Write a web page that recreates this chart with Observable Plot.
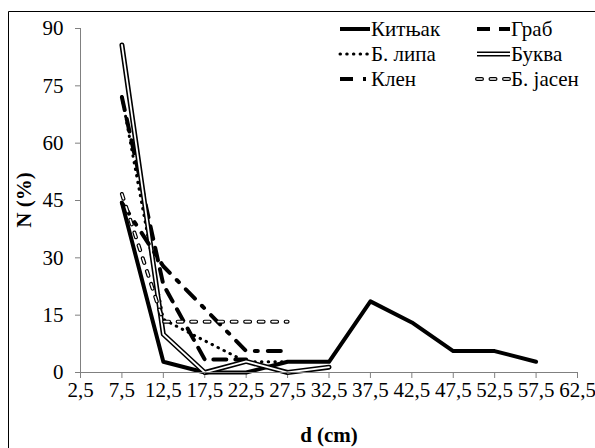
<!DOCTYPE html>
<html><head><meta charset="utf-8">
<script src="https://cdn.jsdelivr.net/npm/d3@7"></script>
<script src="https://cdn.jsdelivr.net/npm/@observablehq/plot@0.6"></script>
<style>
body{margin:0;background:#fff;}
#chart{position:relative;width:595px;height:448px;overflow:hidden;}
#chart svg, #chart svg text{font-family:"Liberation Serif",serif !important;}
</style></head><body><div id="chart"></div>
<script>
// diameter classes (cm), shared by all series
const diameters = [7.5, 12.5, 17.5, 22.5, 27.5, 32.5, 37.5, 42.5, 47.5, 52.5, 57.5];
// N (%) per series, starting at 7.5 cm
const kitnjak = [44.4, 2.8, 0, 0, 2.8, 2.8, 18.6, 13.1, 5.6, 5.6, 2.8];
const grab    = [72.0, 23.0, 3.4, 3.4];
const lipa    = [72.2, 13.9, 8.3, 2.8, 2.8];
const bukva   = [85.7, 10.0, 0, 2.9, 0, 1.4];
const klen    = [44.4, 27.8, 16.7, 5.6, 5.6];
const jasen   = [46.7, 13.3, 13.3, 13.3, 13.3];
const seriesNames = ["Китњак", "Граб", "Б. липа", "Буква", "Клен", "Б. јасен"];
const xTicks = [2.5, 7.5, 12.5, 17.5, 22.5, 27.5, 32.5, 37.5, 42.5, 47.5, 52.5, 57.5, 62.5];
const yTicks = [0, 15, 30, 45, 60, 75, 90];
const xTitle = "d (cm)";
const yTitle = "N (%)";

const rows = (vals) => vals.map((v, i) => ({d: diameters[i], n: v}));
const L = {x: "d", y: "n", curve: "linear", strokeLinejoin: "round"};

const styles = {
  "Китњак": [{stroke: "#000", strokeWidth: 4}],
  "Граб": [{stroke: "#000", strokeWidth: 4, strokeDasharray: "13,9"}],
  "Б. липа": [{stroke: "#000", strokeWidth: 3, strokeDasharray: "0.5,6.2", strokeLinecap: "round"}],
  "Буква": [{stroke: "#000", strokeWidth: 5}, {stroke: "#fff", strokeWidth: 1.8}],
  "Клен": [{stroke: "#000", strokeWidth: 4, strokeDasharray: "13,10,3,10"}],
  "Б. јасен": [{stroke: "#000", strokeWidth: 4, strokeDasharray: "5,8.5", strokeLinecap: "round"},
               {stroke: "#fff", strokeWidth: 1.6, strokeDasharray: "5,8.5", strokeLinecap: "round"}]
};
const seriesData = {"Китњак": kitnjak, "Граб": grab, "Б. липа": lipa, "Буква": bukva, "Клен": klen, "Б. јасен": jasen};

const lineMarks = [];
for (const name of seriesNames) {
  for (const st of styles[name]) lineMarks.push(Plot.line(rows(seriesData[name]), {...L, ...st}));
}

const font = "Liberation Serif";
const chart = Plot.plot({
  width: 595, height: 448,
  marginLeft: 80, marginRight: 18, marginTop: 28, marginBottom: 76,
  style: {fontFamily: "'Liberation Serif', serif", fontSize: "21px", background: "transparent", color: "#000", overflow: "visible"},
  x: {domain: [2.5, 62.5]},
  y: {domain: [0, 90]},
  marks: [
    Plot.ruleX([2.5], {stroke: "#808080", strokeWidth: 1}),
    Plot.axisX({ticks: xTicks, tickFormat: d => String(d).replace(".", ","), tickSize: 6, tickPadding: 4, stroke: "#808080", label: null}),
    Plot.axisY({ticks: yTicks, tickSize: 5, tickPadding: 12, stroke: "#808080", label: null}),
    ...lineMarks,
    Plot.ruleY([0], {stroke: "#808080", strokeWidth: 1})
  ]
});
document.getElementById("chart").appendChild(chart);

const svg = d3.select(chart);
svg.attr("font-family", font);
// chart border
svg.append("path").attr("d", "M8.5,448V11.5H595").attr("fill", "none").attr("stroke", "#000").attr("stroke-width", 1);
// axis titles
svg.append("text").attr("x", 329).attr("y", 442).attr("text-anchor", "middle")
  .attr("font-size", 21).attr("font-weight", "bold").attr("fill", "#000").text(xTitle);
svg.append("text").attr("transform", "translate(31,200) rotate(-90)").attr("text-anchor", "middle")
  .attr("font-size", 21).attr("font-weight", "bold").attr("fill", "#000").text(yTitle);

// legend
const legendPos = [[340, 370, 29], [477, 510, 29], [340, 370, 54], [477, 510, 54], [340, 370, 79], [477, 510, 79]];
const lg = svg.append("g");
seriesNames.forEach((name, i) => {
  const [x1, x2, y] = legendPos[i];
  for (const st of styles[name]) {
    lg.append("line").attr("x1", x1).attr("x2", x2).attr("y1", y).attr("y2", y)
      .attr("stroke", st.stroke).attr("stroke-width", st.strokeWidth)
      .attr("stroke-dasharray", st.strokeDasharray || null)
      .attr("stroke-linecap", st.strokeLinecap || "butt");
  }
  lg.append("text").attr("x", x2 + 1).attr("y", y + 7).attr("text-anchor", "start")
    .attr("font-size", 21).attr("fill", "#000").text(name);
});
svg.selectAll("text").attr("font-family", font).style("font-family", "'Liberation Serif', serif");
</script></body></html>
